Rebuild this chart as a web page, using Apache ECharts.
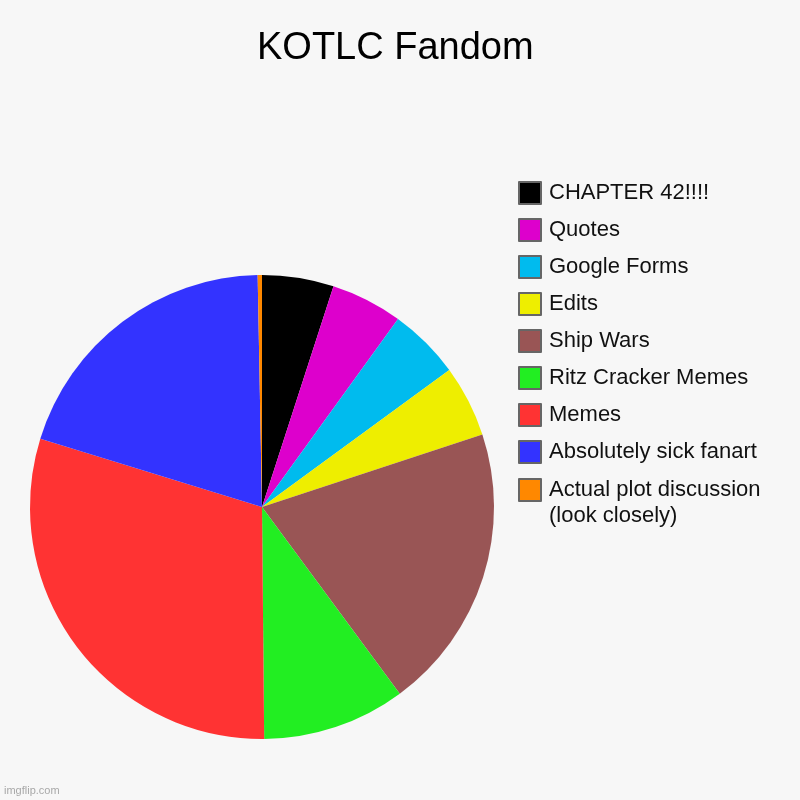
<!DOCTYPE html>
<html>
<head>
<meta charset="utf-8">
<script src="https://cdn.jsdelivr.net/npm/echarts@6/dist/echarts.min.js"></script>
<style>
html,body{margin:0;padding:0;background:#f7f7f7;}
#c{width:800px;height:800px;}
</style>
</head>
<body>
<div id="c"></div>
<script>
const categories = ['CHAPTER 42!!!!', 'Quotes', 'Google Forms', 'Edits', 'Ship Wars', 'Ritz Cracker Memes', 'Memes', 'Absolutely sick fanart', 'Actual plot discussion\n(look closely)'];
const values = [5, 5, 5, 5, 20, 10, 30, 20, 0.3];
const colors = ['#000000', '#dd00cc', '#00bbee', '#eeee00', '#995555', '#22ee22', '#ff3333', '#3333ff', '#ff8800'];

const chart = echarts.init(document.getElementById('c'));
const FONT = 'Arial, "Liberation Sans", sans-serif';
const textBase = { fontFamily: FONT, fontSize: 22, color: '#111111', lineHeight: 26 };
const legendCommon = {
  orient: 'vertical',
  left: 518,
  padding: 0,
  icon: 'rect',
  itemWidth: 22,
  itemHeight: 22,
  itemGap: 11,
  itemStyle: { borderColor: '#666666', borderWidth: 2 },
  textStyle: Object.assign({}, textBase, { rich: { t: Object.assign({ padding: [0, 0, 0, 3] }, textBase) } }),
  selectedMode: false
};
chart.setOption({
  backgroundColor: '#f7f7f7',
  animation: false,
  title: {
    text: 'KOTLC Fandom',
    left: 257,
    top: 30,
    padding: 0,
    textStyle: { fontFamily: FONT, fontSize: 38, fontWeight: 'normal', color: '#000000' }
  },
  legend: [
    Object.assign({}, legendCommon, {
      top: 180,
      data: categories.slice(0, 8),
      formatter: function (name) { return '{t|' + name + '}'; }
    }),
    Object.assign({}, legendCommon, {
      top: 451,
      data: categories.slice(8),
      formatter: function (name) { return '\n{t|' + name + '}'; }
    })
  ],
  graphic: [{
    type: 'text', left: 4, top: 785,
    style: { text: 'imgflip.com', fontFamily: FONT, fontSize: 11, fill: '#a8a8a8' }
  }],
  series: [{
    type: 'pie',
    center: [262, 507],
    radius: 232,
    startAngle: 90,
    clockwise: true,
    label: { show: false },
    labelLine: { show: false },
    emphasis: { disabled: true },
    data: categories.map((n, i) => ({ name: n, value: values[i], itemStyle: { color: colors[i] } }))
  }]
});
</script>
</body>
</html>
